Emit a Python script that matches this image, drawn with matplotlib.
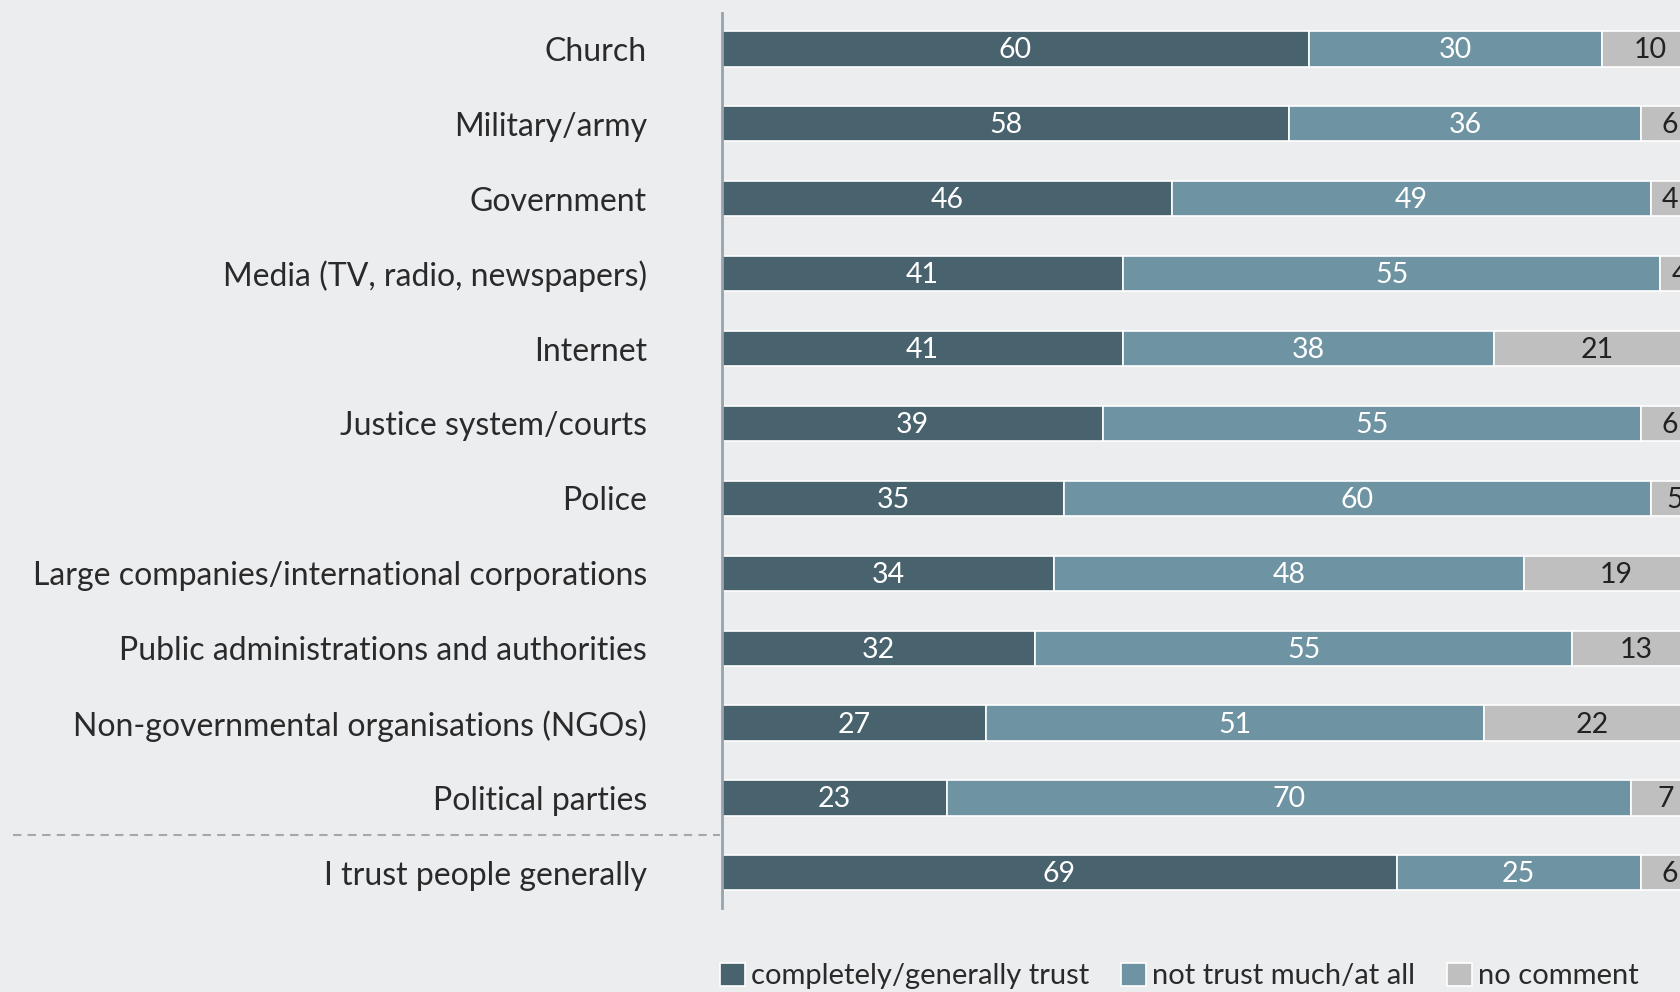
import matplotlib
matplotlib.use("Agg")
import matplotlib.pyplot as plt
from matplotlib.patches import Patch
import matplotlib.transforms as mtransforms

plt.rcParams['font.family'] = ['Lato', 'DejaVu Sans']

categories = ["Church", "Military/army", "Government", "Media (TV, radio, newspapers)",
              "Internet", "Justice system/courts", "Police",
              "Large companies/international corporations",
              "Public administrations and authorities",
              "Non-governmental organisations (NGOs)", "Political parties",
              "I trust people generally"]
trust = [60, 58, 46, 41, 41, 39, 35, 34, 32, 27, 23, 69]
not_trust = [30, 36, 49, 55, 38, 55, 60, 48, 55, 51, 70, 25]
no_comment = [10, 6, 4, 4, 21, 6, 5, 19, 13, 22, 7, 6]
series_names = ["completely/generally trust", "not trust much/at all", "no comment"]
colors = ["#48636e", "#6e93a2", "#bfbfbf"]
text_colors = ["white", "white", "#222222"]

BG = "#ecedef"
W, H = 1680, 992
fig = plt.figure(figsize=(W / 100, H / 100), dpi=100, facecolor=BG)
ax = fig.add_axes([722 / W, 1 - 908 / H, 1 - 722 / W, (908 - 13) / H])
ax.set_facecolor(BG)

ypos = list(range(len(categories)))
series = [trust, not_trust, no_comment]
left = [0] * len(categories)
for vals, col, tcol in zip(series, colors, text_colors):
    ax.barh(ypos, vals, left=left, height=0.47, color=col, edgecolor="white", linewidth=1.2)
    for y, v, l in zip(ypos, vals, left):
        ax.text(l + v / 2, y + 0.02, str(v), ha="center", va="center", color=tcol,
                fontsize=20.5, clip_on=True)
    left = [a + b for a, b in zip(left, vals)]

ax.set_xlim(0, 98)
ax.set_ylim(11.47, -0.48)
ax.set_yticks(ypos)
ax.set_yticklabels(categories, fontsize=23, color="#2a2a2a")
ax.tick_params(axis="y", length=0, pad=54)
ax.set_xticks([])
for s in ["top", "right", "bottom"]:
    ax.spines[s].set_visible(False)
ax.spines["left"].set_color("#98a4ad")
ax.spines["left"].set_linewidth(2)

# dashed separator
trans = mtransforms.blended_transform_factory(fig.transFigure, ax.transData)
ax.plot([13 / W, 720 / W], [10.5, 10.5], transform=trans, clip_on=False,
        color="#a0a9b0", linestyle=(0, (4, 3)), linewidth=1.5)

handles = [Patch(facecolor=c, edgecolor="white", linewidth=1.2) for c in colors]
fig.legend(handles, series_names, loc="center left", bbox_to_anchor=(694 / W, 1 - 976 / H),
           ncol=3, frameon=False, handlelength=0.85, handleheight=0.85,
           handletextpad=0.2, columnspacing=1.1, labelcolor="#2a2a2a",
           prop={"size": 21})

fig.savefig("out.png", dpi=100, facecolor=BG)
